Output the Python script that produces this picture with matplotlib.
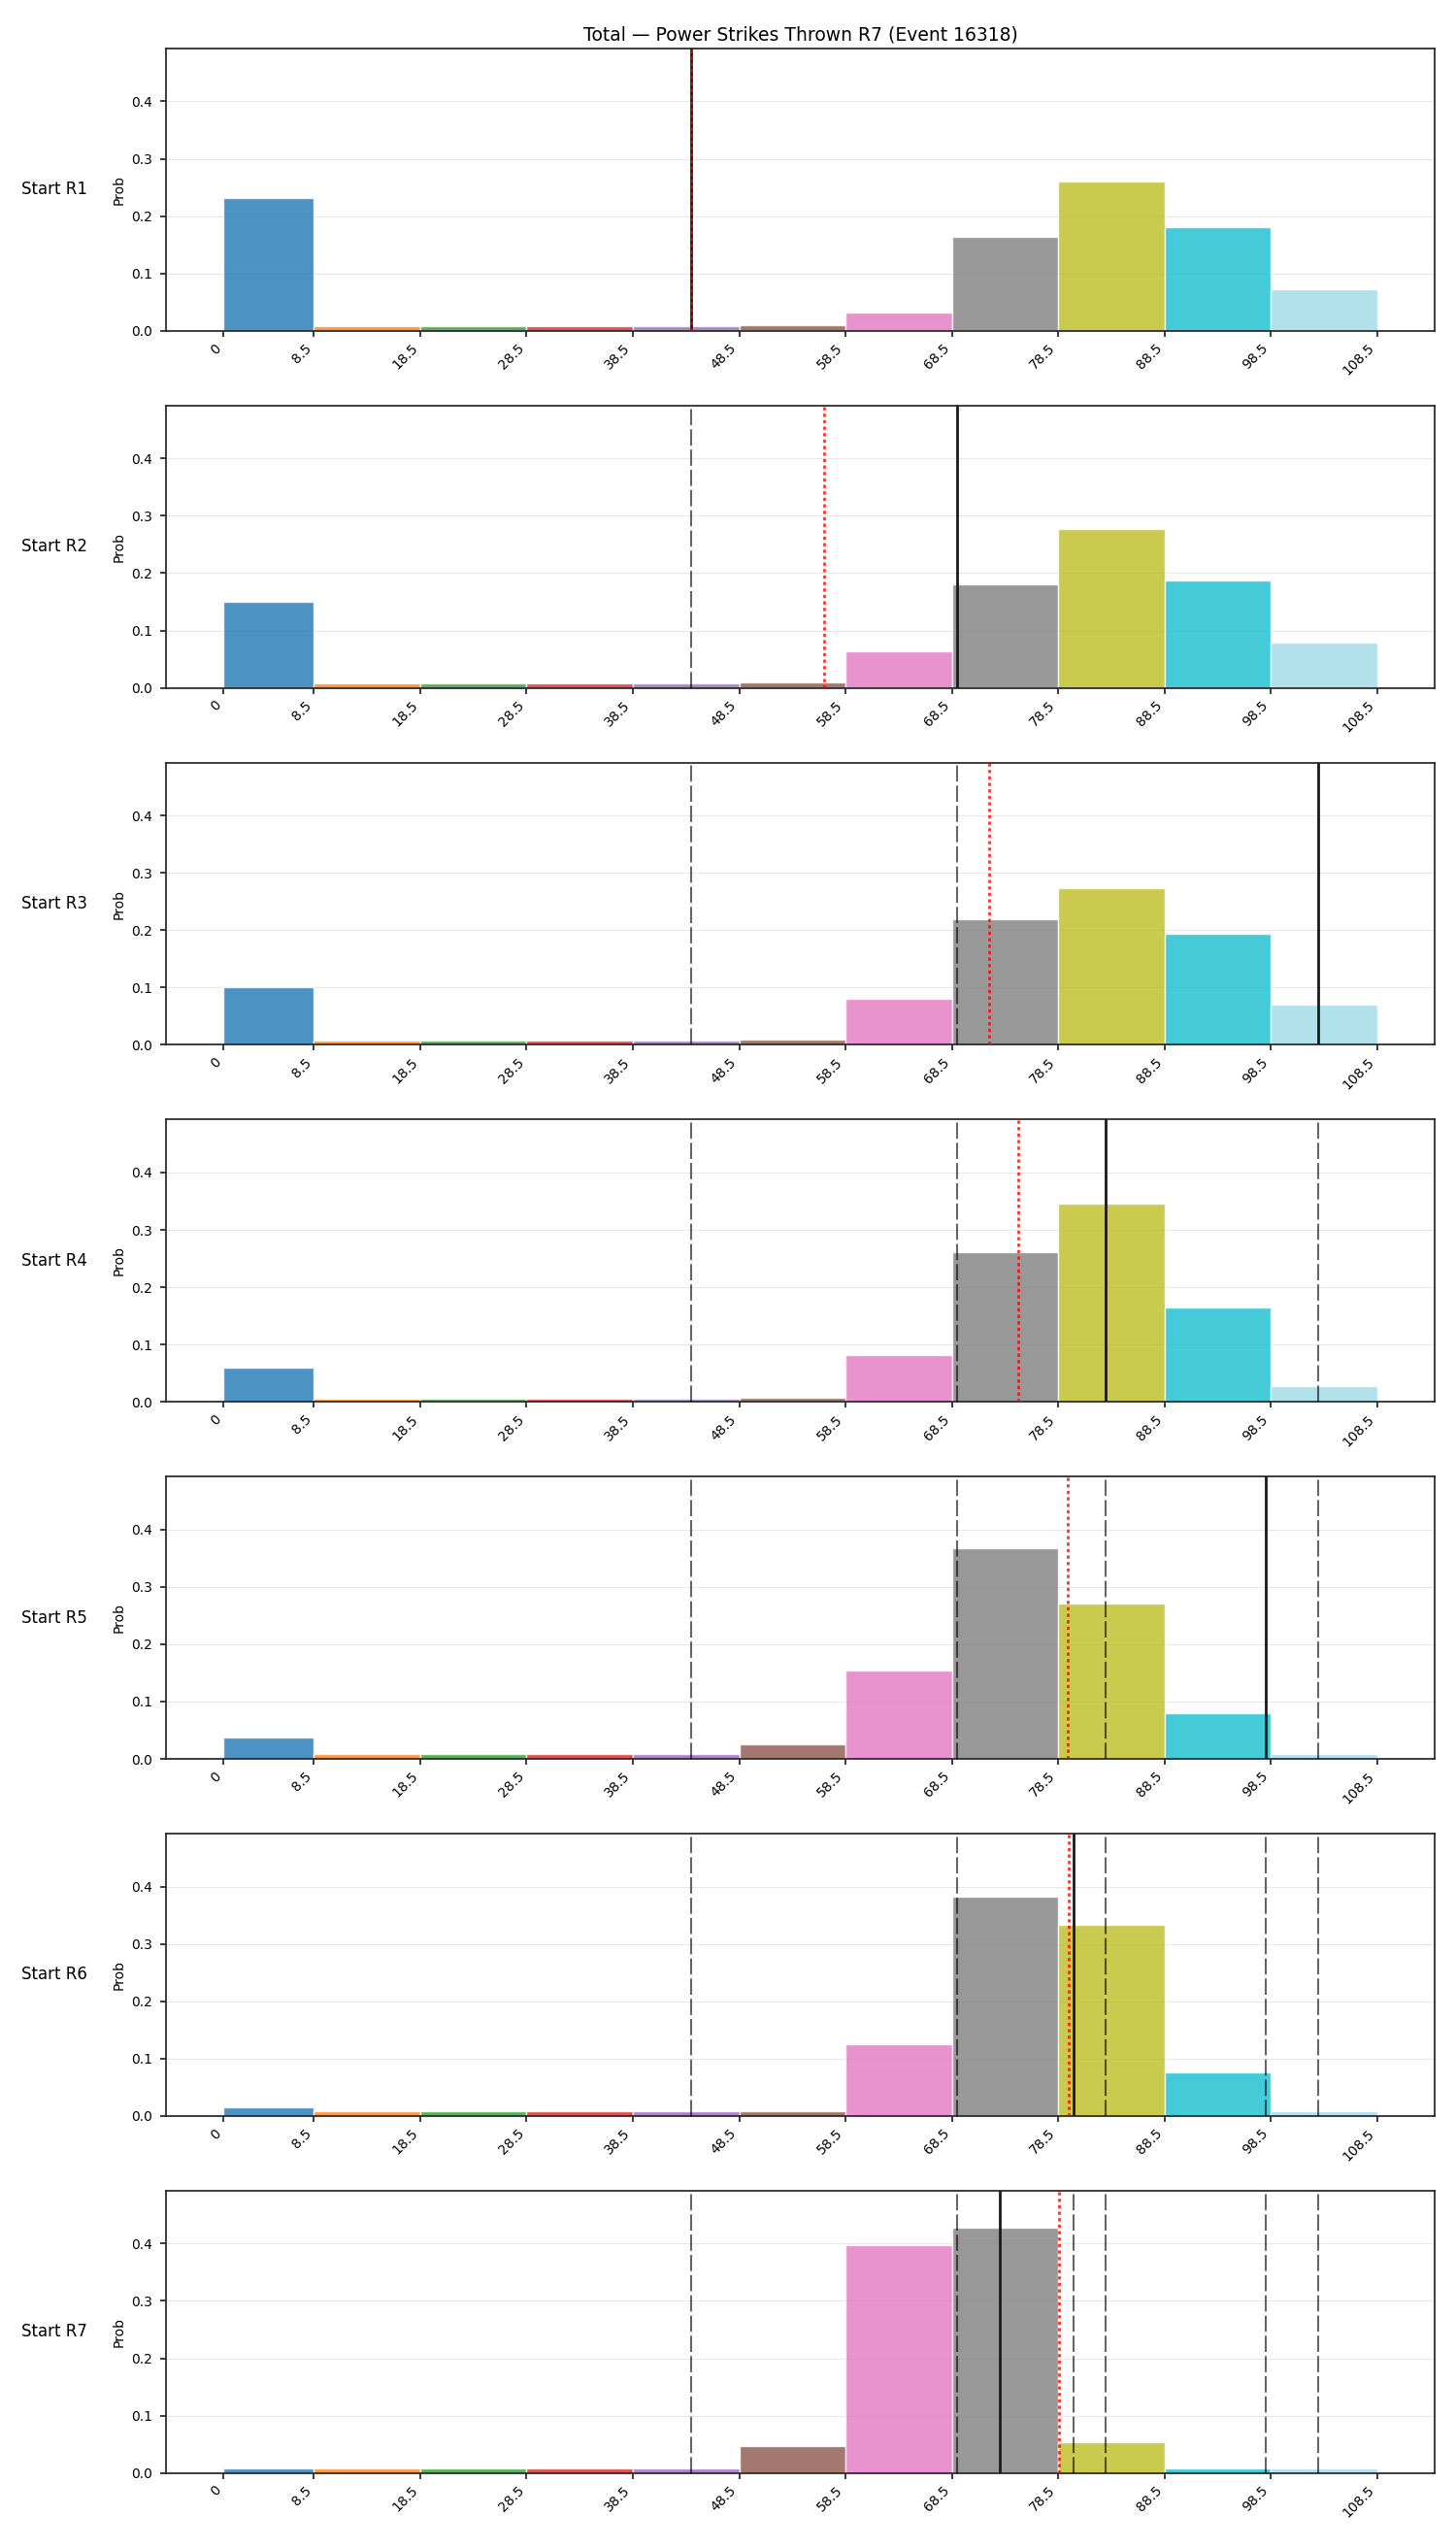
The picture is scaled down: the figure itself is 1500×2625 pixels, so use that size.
import numpy as np
import matplotlib
matplotlib.use("Agg")
import matplotlib.pyplot as plt

# ---------------- data ----------------
title = "Total — Power Strikes Thrown R7 (Event 16318)"
bin_edges = [0, 8.5, 18.5, 28.5, 38.5, 48.5, 58.5, 68.5, 78.5, 88.5, 98.5, 108.5]
tick_labels = ["0", "8.5", "18.5", "28.5", "38.5", "48.5", "58.5", "68.5", "78.5", "88.5", "98.5", "108.5"]
round_labels = ["Start R1", "Start R2", "Start R3", "Start R4", "Start R5", "Start R6", "Start R7"]
actual_values = [44, 69, 103, 83, 98, 80, 73]

probs_r1 = [0.232, 0.008, 0.008, 0.008, 0.008, 0.009, 0.032, 0.163, 0.260, 0.181, 0.073]
probs_r2 = [0.150, 0.007, 0.007, 0.007, 0.007, 0.009, 0.063, 0.180, 0.277, 0.187, 0.079]
probs_r3 = [0.101, 0.007, 0.007, 0.007, 0.007, 0.009, 0.080, 0.219, 0.273, 0.194, 0.070]
probs_r4 = [0.059, 0.006, 0.006, 0.006, 0.006, 0.008, 0.081, 0.261, 0.345, 0.164, 0.027]
probs_r5 = [0.038, 0.008, 0.008, 0.008, 0.008, 0.025, 0.154, 0.368, 0.271, 0.079, 0.008]
probs_r6 = [0.015, 0.008, 0.008, 0.008, 0.008, 0.008, 0.125, 0.382, 0.334, 0.076, 0.008]
probs_r7 = [0.008, 0.008, 0.008, 0.008, 0.008, 0.047, 0.397, 0.428, 0.054, 0.008, 0.008]
all_probs = [probs_r1, probs_r2, probs_r3, probs_r4, probs_r5, probs_r6, probs_r7]

bar_colors = ["#1f77b4", "#ff7f0e", "#2ca02c", "#d62728", "#9467bd", "#8c564b",
              "#e377c2", "#7f7f7f", "#bcbd22", "#17becf", "#9edae5"]

# ---------------- style ----------------
plt.rcParams.update({
    "font.family": ["DejaVu Sans"],
    "axes.edgecolor": "#262626",
    "axes.linewidth": 1.25,
    "xtick.major.width": 1.25,
    "ytick.major.width": 1.25,
    "xtick.major.size": 4.3,
    "ytick.major.size": 4.3,
    "ytick.major.pad": 5.5,
    "xtick.color": "#262626",
    "ytick.color": "#262626",
    "xtick.labelcolor": "black",
    "ytick.labelcolor": "black",
})

fig, axes = plt.subplots(len(round_labels), 1, figsize=(15, 26.25), dpi=100)
fig.subplots_adjust(left=0.114, right=0.9853, top=0.98095, bottom=0.02945, hspace=0.265)

lefts = np.array(bin_edges[:-1])
widths = np.diff(bin_edges)
ymax = max(max(p) for p in all_probs) * 1.15

for i, ax in enumerate(axes):
    ax.bar(lefts, all_probs[i], width=widths, align="edge", color=bar_colors,
           alpha=0.8, edgecolor="white", linewidth=1, zorder=2)
    # previous rounds
    for v in actual_values[:i]:
        ax.axvline(v, color="black", alpha=0.6, linestyle=(0, (8, 2)),
                   linewidth=1.5, zorder=3)
    # current round
    ax.axvline(actual_values[i], color="#1a1a1a", linewidth=2, zorder=4)
    # running mean
    ax.axvline(np.mean(actual_values[:i + 1]), color="red", alpha=0.8,
               linestyle=(0, (1.2, 1.2)), linewidth=2, zorder=5)

    ax.set_xticks(bin_edges)
    ax.set_xticklabels(tick_labels, rotation=45, ha="right")
    ax.set_ylim(0, ymax)
    ax.set_yticks([0.0, 0.1, 0.2, 0.3, 0.4])
    ax.set_ylabel("Prob")
    ax.grid(axis="y", alpha=0.3, zorder=0)
    ax.set_axisbelow(True)
    ax.text(-0.062, 0.5, round_labels[i], transform=ax.transAxes, ha="right",
            va="center", fontsize=12)

axes[0].set_title(title, fontsize=13.5)

fig.savefig("out.png", dpi=100)
